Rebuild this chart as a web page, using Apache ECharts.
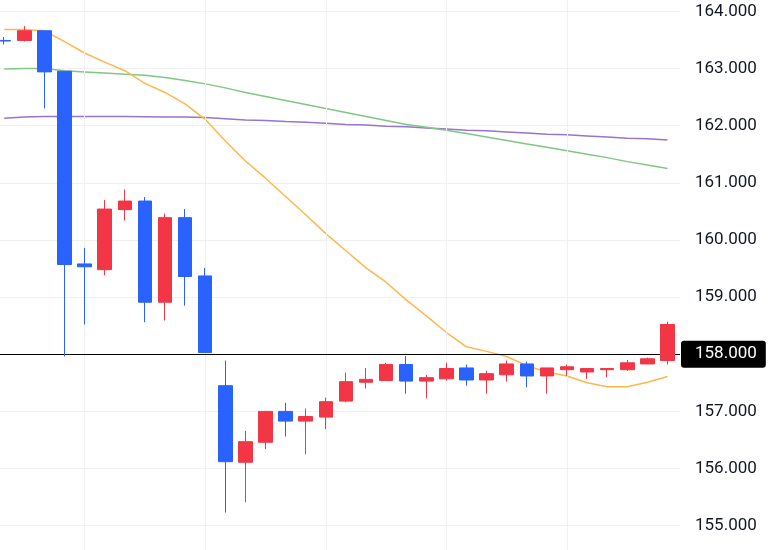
<!DOCTYPE html>
<html>
<head>
<meta charset="utf-8">
<script src="https://cdn.jsdelivr.net/npm/echarts@6/dist/echarts.min.js"></script>
<style>
html,body{margin:0;padding:0;background:#fff;}
#chart{width:769px;height:550px;}
</style>
</head>
<body>
<div id="chart"></div>
<script>
// candle index positions
var idx = [0,1,2,3,4,5,6,7,8,9,10,11,12,13,14,15,16,17,18,19,20,21,22,23,24,25,26,27,28,29,30,31,32,33];
var opens  = [163.49,163.49,163.66,162.95,159.58,159.48,160.53,160.68,158.91,160.39,159.37,157.45,156.11,156.46,157.00,156.83,156.90,157.18,157.51,157.54,157.82,157.53,157.57,157.76,157.55,157.64,157.83,157.62,157.73,157.69,157.73,157.73,157.83,157.89];
var closes = [163.48,163.66,162.94,159.57,159.53,160.54,160.68,158.91,160.39,159.36,158.03,156.12,156.47,157.00,156.83,156.91,157.17,157.52,157.56,157.82,157.53,157.59,157.75,157.55,157.66,157.83,157.62,157.76,157.78,157.75,157.75,157.85,157.92,158.52];
var lows   = [163.42,163.47,162.30,157.96,158.52,159.38,160.34,158.56,158.59,158.85,158.03,155.23,155.41,156.34,156.56,156.25,156.69,157.16,157.40,157.53,157.31,157.23,157.54,157.45,157.31,157.52,157.42,157.31,157.62,157.57,157.60,157.71,157.83,157.82];
var highs  = [163.55,163.74,163.66,162.95,159.86,160.70,160.88,160.75,160.46,160.54,159.51,157.89,156.66,157.00,157.15,157.05,157.24,157.68,157.76,157.85,157.97,157.64,157.85,157.82,157.71,157.89,157.87,157.76,157.82,157.76,157.76,157.90,157.94,158.57];
var maFast = [163.68,163.68,163.66,163.47,163.27,163.11,162.96,162.74,162.58,162.38,162.11,161.73,161.38,161.08,160.76,160.44,160.11,159.81,159.51,159.26,158.95,158.67,158.38,158.13,158.05,157.96,157.80,157.69,157.62,157.50,157.43,157.43,157.51,157.61];
var maMid  = [162.99,163.00,163.00,162.96,162.94,162.92,162.90,162.88,162.84,162.79,162.73,162.66,162.58,162.51,162.44,162.37,162.30,162.23,162.16,162.09,162.02,161.97,161.92,161.86,161.80,161.74,161.68,161.62,161.56,161.50,161.44,161.37,161.31,161.25];
var maSlow = [162.13,162.15,162.16,162.16,162.16,162.16,162.16,162.155,162.15,162.15,162.14,162.12,162.10,162.09,162.07,162.06,162.04,162.02,162.01,161.99,161.98,161.96,161.94,161.92,161.91,161.89,161.87,161.85,161.84,161.82,161.80,161.78,161.77,161.75];
var yTicks = [155,156,157,158,159,160,161,162,163,164];
var vGridAt = [4,10,16,22,28];
var priceLine = 158.0;

var candleData = idx.map(function(i){ return [i, opens[i], closes[i], lows[i], highs[i]]; });
function pairs(arr){ return idx.map(function(i){ return [i, arr[i]]; }); }

var chart = echarts.init(document.getElementById('chart'));
chart.setOption({
  animation: false,
  backgroundColor: '#ffffff',
  grid: { left: 0, right: 89, top: -45.86, bottom: -32.86, containLabel: false, outerBoundsMode: 'none' },
  xAxis: {
    type: 'value', min: -0.209, max: 33.62, show: false
  },
  yAxis: {
    type: 'value', position: 'right', min: 154, max: 165, interval: 1,
    axisLine: { show: false }, axisTick: { show: false },
    splitLine: { show: true, lineStyle: { color: '#f0f0f0', width: 1 } },
    axisLabel: {
      margin: 15, color: '#131722', fontFamily: 'Roboto', fontSize: 17,
      formatter: function(v){
        if (Math.abs(v - priceLine) < 1e-6) return '';
        return yTicks.indexOf(v) >= 0 ? v.toFixed(3) : '';
      }
    }
  },
  series: [
    {
      type: 'line', data: [], silent: true, z: 1,
      markLine: {
        silent: true, symbol: 'none', label: { show: false },
        lineStyle: { color: '#f0f0f0', width: 1, type: 'solid' },
        data: vGridAt.map(function(v){ return { xAxis: v }; })
      }
    },
    { type: 'line', data: pairs(maSlow), showSymbol: false, z: 2, lineStyle: { color: '#9575cd', width: 1.5 }, itemStyle: { color: '#9575cd' } },
    { type: 'line', data: pairs(maMid), showSymbol: false, z: 2, lineStyle: { color: '#81c784', width: 1.5 }, itemStyle: { color: '#81c784' } },
    { type: 'line', data: pairs(maFast), showSymbol: false, z: 2, lineStyle: { color: '#ffb74d', width: 1.5 }, itemStyle: { color: '#ffb74d' } },
    {
      type: 'candlestick', z: 5, clip: false,
      data: candleData,
      encode: { x: 0, y: [1, 2, 3, 4] },
      barWidth: 14,
      itemStyle: {
        color: '#f23645', color0: '#2962ff',
        borderColor: '#f23645', borderColor0: '#2962ff', borderWidth: 1
      },
      markLine: {
        silent: true, symbol: 'none',
        lineStyle: { color: '#000000', width: 1, type: 'solid' },
        label: {
          show: true, position: 'end', distance: 1,
          formatter: function(){ return priceLine.toFixed(3); },
          color: '#ffffff', backgroundColor: '#000000',
          fontFamily: 'Roboto', fontSize: 17,
          padding: [5, 9, 5, 14], borderRadius: 3
        },
        data: [{ yAxis: priceLine }]
      }
    }
  ]
});
</script>
</body>
</html>
